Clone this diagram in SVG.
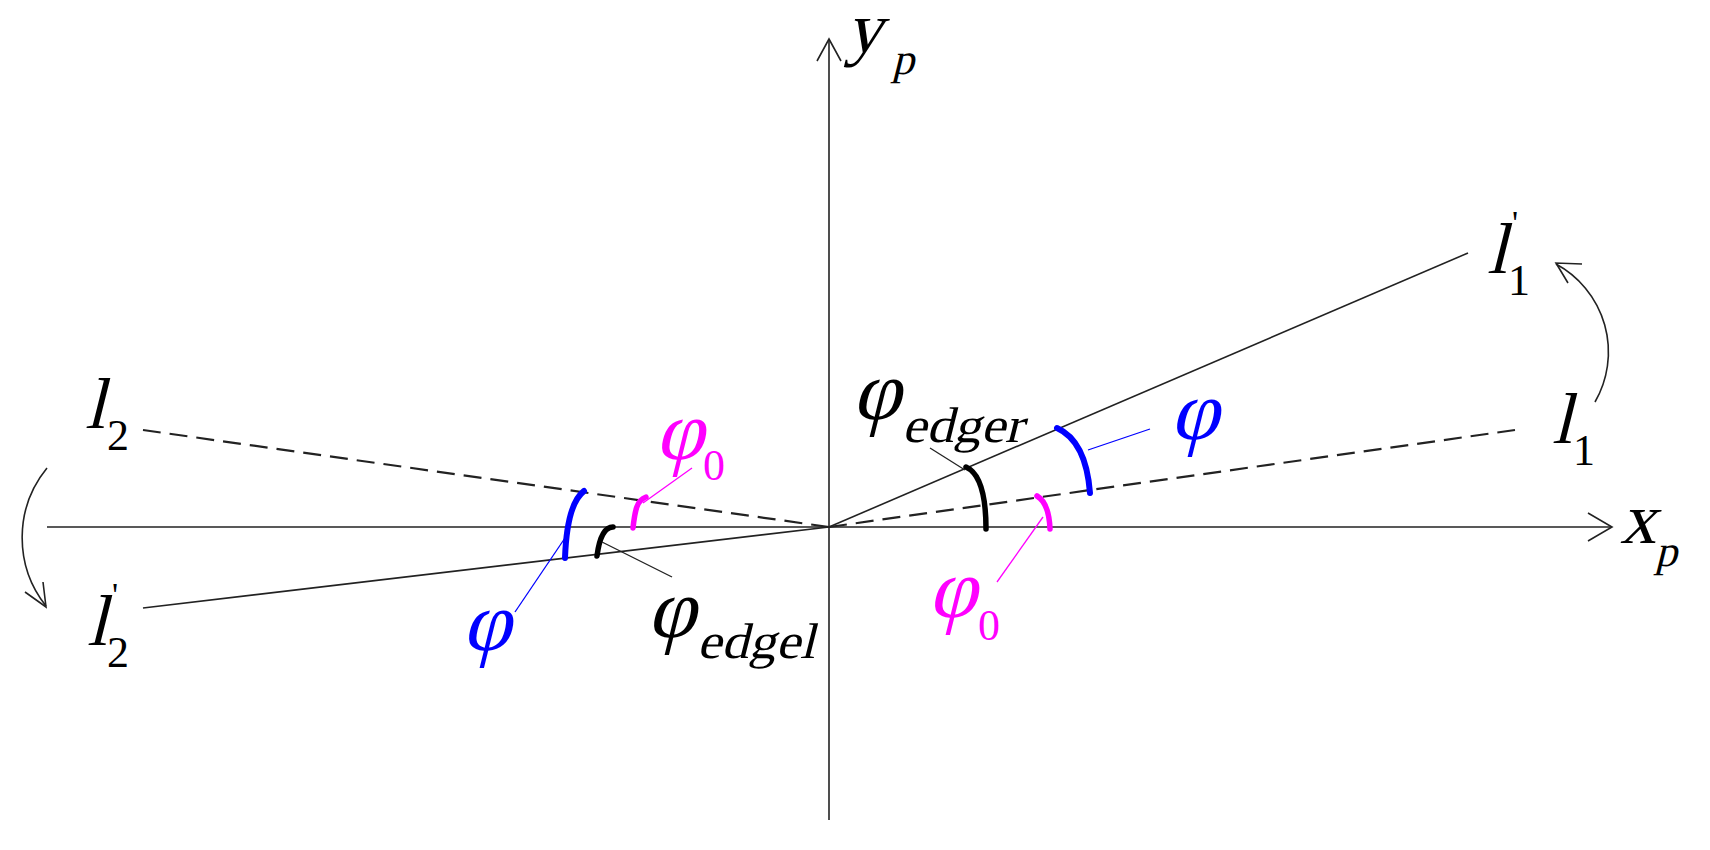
<svg xmlns="http://www.w3.org/2000/svg" width="1710" height="850" viewBox="0 0 1710 850">
<style>
.ax{stroke:#222;stroke-width:1.6;fill:none}
.ds{stroke:#222;stroke-width:2.2;fill:none;stroke-dasharray:18 9}
.ab{stroke:#0000ff;stroke-width:6;fill:none;stroke-linecap:round}
.ak{stroke:#000;stroke-width:5.5;fill:none;stroke-linecap:round}
.am{stroke:#ff00ff;stroke-width:5.5;fill:none;stroke-linecap:round}
.lb{stroke:#0000ff;stroke-width:1.3}
.lk{stroke:#222;stroke-width:1.3}
.lm{stroke:#ff00ff;stroke-width:1.3}
.cb{fill:#0000ff}
.cm{fill:#ff00ff}
</style>
<g id="connectors">
<line class="ax" x1="829" y1="820" x2="829" y2="39"/>
<polyline class="ax" points="817,61 829,39 841,61"/>
<line class="ax" x1="47" y1="527" x2="1612" y2="527"/>
<polyline class="ax" points="1588,513 1612,527 1588,541"/>
<line class="ds" x1="829" y1="527" x2="1515" y2="430"/>
<line class="ax" x1="829" y1="527" x2="1468" y2="253"/>
<line class="ds" x1="829" y1="527" x2="143" y2="430"/>
<line class="ax" x1="829" y1="527" x2="143" y2="608"/>
<path class="ax" d="M1595,402 A100,100 0 0 0 1556,264"/>
<polyline class="ax" points="1582,264 1556,263 1568,283"/>
<path class="ax" d="M47,468 A110,110 0 0 0 46,606"/>
<polyline class="ax" points="25,592 46,607 43,582"/>
<path class="ab" d="M1057,428 Q1086,441 1090,493"/>
<path class="ak" d="M966,467 Q986,476 986,529"/>
<path class="am" d="M1037,496 Q1049,503 1050,529"/>
<path class="ab" d="M584,491 Q567,504 565,558"/>
<path class="ak" d="M613,527 C606,527 600,533 597,556"/>
<path class="am" d="M646,497 C637,500 635,510 633,528"/>
<line class="lb" x1="1088" y1="450" x2="1150" y2="429"/>
<line class="lk" x1="930" y1="448" x2="965" y2="470"/>
<line class="lm" x1="1043" y1="517" x2="997" y2="582"/>
<line class="lb" x1="567" y1="535" x2="515" y2="612"/>
<line class="lk" x1="602" y1="542" x2="672" y2="577"/>
<line class="lm" x1="692" y1="468" x2="643" y2="503"/>
</g>
<g id="labels" font-family="Liberation Serif, DejaVu Serif, serif" font-style="normal">
<g id="label-yp"><text transform="translate(846,52) skewX(-14)" font-size="72">y</text><text transform="translate(892,74) skewX(-14)" font-size="44">p</text></g>
<g id="label-xp"><text transform="translate(1620,543) skewX(-14)" font-size="72">x</text><text transform="translate(1655,566) skewX(-14)" font-size="44">p</text></g>
<g id="label-l2"><text transform="translate(85,428) skewX(-14)" font-size="72">l</text><text x="107" y="450" font-size="44">2</text></g>
<g id="label-l2p"><text transform="translate(87,645) skewX(-14)" font-size="72">l</text><text x="112" y="606" font-size="34">'</text><text x="107" y="667" font-size="44">2</text></g>
<g id="label-l1"><text transform="translate(1552,443) skewX(-14)" font-size="72">l</text><text x="1573" y="465" font-size="44">1</text></g>
<g id="label-l1p"><text transform="translate(1487,273) skewX(-14)" font-size="72">l</text><text x="1512" y="234" font-size="34">'</text><text x="1508" y="295" font-size="44">1</text></g>
<g id="label-phi-edger"><text transform="translate(852,419) skewX(-14)" font-size="84">φ</text><text transform="translate(902,442) skewX(-14)" font-size="50" textLength="121" lengthAdjust="spacingAndGlyphs">edger</text></g>
<g id="label-phi-edgel"><text transform="translate(647,637) skewX(-14)" font-size="84">φ</text><text transform="translate(697,658) skewX(-14)" font-size="50" textLength="118" lengthAdjust="spacingAndGlyphs">edgel</text></g>
<g id="label-phi0-left" class="cm"><text transform="translate(655,459) skewX(-14)" font-size="84">φ</text><text x="703" y="480" font-size="44">0</text></g>
<g id="label-phi0-right" class="cm"><text transform="translate(928,617) skewX(-14)" font-size="84">φ</text><text x="978" y="640" font-size="44">0</text></g>
<g id="label-phi-right" class="cb"><text transform="translate(1170,439) skewX(-14)" font-size="84">φ</text></g>
<g id="label-phi-left" class="cb"><text transform="translate(462,650) skewX(-14)" font-size="84">φ</text></g>
</g>
</svg>
